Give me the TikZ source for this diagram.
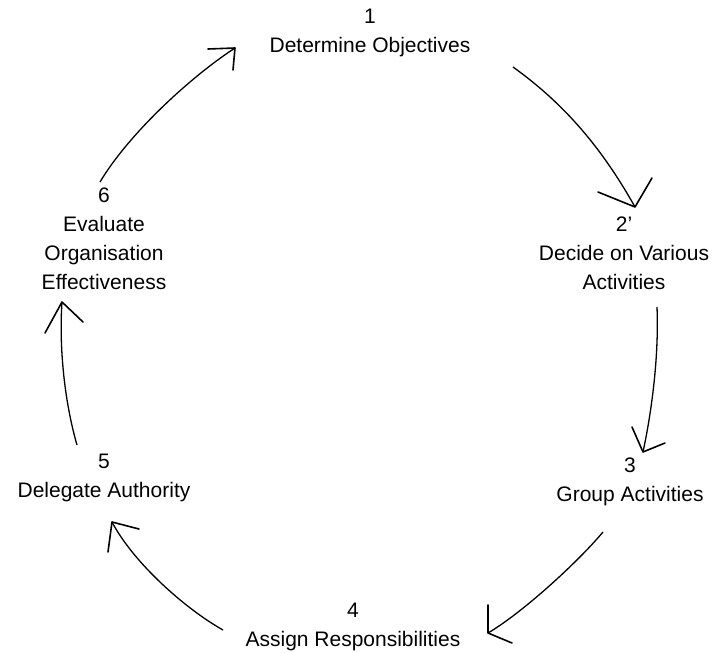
\documentclass[tikz,border=0pt]{standalone}
\usepackage{fontspec}
\setmainfont{Liberation Sans}
\begin{document}
\begin{tikzpicture}[x=1pt,y=-1pt,
  step label/.style={align=center, inner sep=0pt, font=\fontsize{21}{29}\selectfont},
  cycle arc/.style={line width=1.3pt},
  arm/.style={line width=1.6pt, line cap=round, line join=round}]
\path[use as bounding box, fill=white] (0,0) rectangle (715,653);

% the six steps of the organising cycle
\node[step label] (s1) at (370,33)  {1\\Determine Objectives};
\node[step label] (s2) at (624,253) {2'\\Decide on Various\\Activities};
\node[step label] (s3) at (630,482) {3\\Group Activities};
\node[step label] (s4) at (353,627) {4\\Assign Responsibilities};
\node[step label] (s5) at (104,478) {5\\Delegate Authority};
\node[step label] (s6) at (104,239) {6\\Evaluate\\Organisation\\Effectiveness};

% ends of the hand-drawn arcs between the steps
\coordinate (a12) at (513,67);  \coordinate (h12) at (635,207);
\coordinate (a23) at (657,307); \coordinate (h23) at (643,452);
\coordinate (a34) at (603,532); \coordinate (h34) at (488,633);
\coordinate (a45) at (223,630); \coordinate (h45) at (112,522);
\coordinate (a56) at (77,445);  \coordinate (h56) at (62,302);
\coordinate (a61) at (100,182); \coordinate (h61) at (235,48);

% arcs
\draw[cycle arc] (a12) .. controls (566,105) and (603,150) .. (h12);
\draw[cycle arc] (a23) .. controls (659,355) and (652,410) .. (h23);
\draw[cycle arc] (a34) .. controls (577,563) and (522,613) .. (h34);
\draw[cycle arc] (a45) .. controls (184,608) and (133,562) .. (h45);
\draw[cycle arc] (a56) .. controls (64,400) and (59,345) .. (h56);
\draw[cycle arc] (a61) .. controls (128,135) and (189,78) .. (h61);

% open arrowheads
\draw[arm] (h12) +(-37,-15) -- (h12) -- +(17,-29);
\draw[arm] (h23) +(-11,-25) -- (h23) -- +(22,-9);
\draw[arm] (h34) +(0,-28) -- (h34) -- +(24,10);
\draw[arm] (h45) +(-4,30) -- (h45) -- +(27,7);
\draw[arm] (h56) +(-17,31) -- (h56) -- +(21,20);
\draw[arm] (h61) +(-27,1) -- (h61) -- +(-2,22);
\end{tikzpicture}
\end{document}
